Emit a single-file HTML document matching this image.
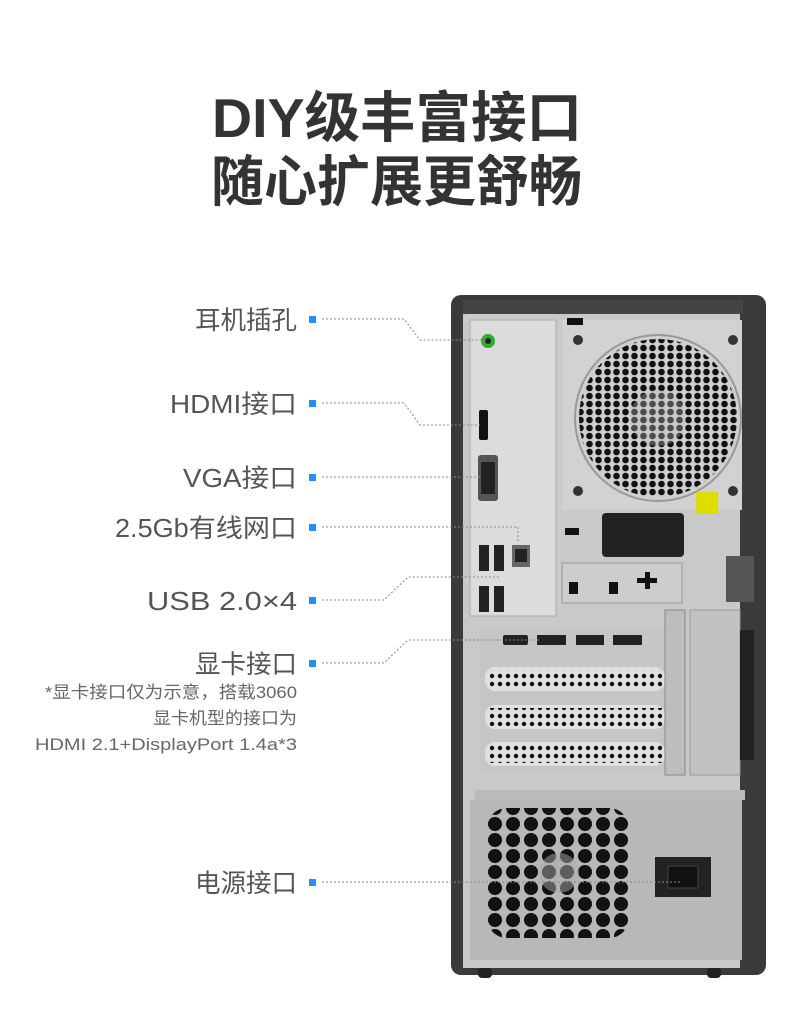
<!DOCTYPE html>
<html><head><meta charset="utf-8"><style>
html,body{margin:0;padding:0;background:#fff;width:790px;height:1015px;overflow:hidden}
svg{display:block}
.t{font-family:"Liberation Sans","Noto Sans CJK SC",sans-serif;font-weight:bold;fill:#333;font-size:55px}
.l{font-family:"Liberation Sans","Noto Sans CJK SC",sans-serif;fill:#555;font-size:25.5px}
.n{font-family:"Liberation Sans","Noto Sans CJK SC",sans-serif;fill:#666;font-size:17px}
.d{stroke:#888;stroke-width:1;stroke-dasharray:2 2;fill:none}
</style></head><body>
<svg width="790" height="1015" viewBox="0 0 790 1015">
<defs>
<pattern id="h1" width="9" height="8" patternUnits="userSpaceOnUse"><circle cx="4.5" cy="4" r="3.3" fill="#111"/></pattern>
<pattern id="h2" width="18" height="16" patternUnits="userSpaceOnUse"><circle cx="9" cy="8" r="7" fill="#111"/></pattern>
<pattern id="h3" width="8" height="8" patternUnits="userSpaceOnUse"><circle cx="4" cy="4" r="2.2" fill="#111"/></pattern>
</defs>
<text class="t" x="212" y="137" textLength="370" lengthAdjust="spacingAndGlyphs">DIY级丰富接口</text>
<text class="t" x="211" y="201" textLength="371" lengthAdjust="spacingAndGlyphs">随心扩展更舒畅</text>

<g class="l">
<text x="195" y="329" textLength="102" lengthAdjust="spacingAndGlyphs">耳机插孔</text>
<text x="170" y="413" textLength="127" lengthAdjust="spacingAndGlyphs">HDMI接口</text>
<text x="183" y="487" textLength="114" lengthAdjust="spacingAndGlyphs">VGA接口</text>
<text x="115" y="537" textLength="182" lengthAdjust="spacingAndGlyphs">2.5Gb有线网口</text>
<text x="147" y="610" textLength="150" lengthAdjust="spacingAndGlyphs">USB 2.0×4</text>
<text x="195" y="673" textLength="102" lengthAdjust="spacingAndGlyphs">显卡接口</text>
<text x="195" y="892" textLength="102" lengthAdjust="spacingAndGlyphs">电源接口</text>
</g>
<g class="n">
<text x="45" y="698" textLength="252" lengthAdjust="spacingAndGlyphs">*显卡接口仅为示意，搭载3060</text>
<text x="153" y="724" textLength="144" lengthAdjust="spacingAndGlyphs">显卡机型的接口为</text>
<text x="35" y="750" textLength="262" lengthAdjust="spacingAndGlyphs">HDMI 2.1+DisplayPort 1.4a*3</text>
</g>
<g fill="#1e90ff">
<rect x="309" y="316" width="7" height="7"/><rect x="309" y="400" width="7" height="7"/>
<rect x="309" y="474" width="7" height="7"/><rect x="309" y="524" width="7" height="7"/>
<rect x="309" y="597" width="7" height="7"/><rect x="309" y="660" width="7" height="7"/>
<rect x="309" y="879" width="7" height="7"/>
</g>

<rect x="451" y="295" width="315" height="680" rx="10" fill="#3a3a3a"/>
<rect x="463" y="310" width="289" height="658" fill="#c9c9c9"/>
<rect x="740" y="310" width="14" height="658" fill="#3a3a3a"/>
<rect x="463" y="300" width="280" height="14" fill="#444"/>
<rect x="470" y="320" width="86" height="296" fill="#dcdcdc" stroke="#aaa"/>
<circle cx="488" cy="341" r="7" fill="#3a3"/><circle cx="488" cy="341" r="3" fill="#222"/>
<rect x="479" y="410" width="9" height="30" rx="2" fill="#111"/>
<rect x="478" y="455" width="20" height="46" rx="3" fill="#555"/>
<rect x="481" y="462" width="14" height="32" fill="#222"/>
<rect x="479" y="545" width="10" height="26" fill="#222"/><rect x="494" y="545" width="10" height="26" fill="#222"/>
<rect x="479" y="586" width="10" height="26" fill="#222"/><rect x="494" y="586" width="10" height="26" fill="#222"/>
<rect x="512" y="545" width="18" height="22" fill="#666"/><rect x="515" y="549" width="12" height="13" fill="#222"/>
<rect x="562" y="320" width="180" height="190" fill="#d2d2d2"/>
<circle cx="658" cy="418" r="83" fill="#cfcfcf" stroke="#999" stroke-width="2"/>
<circle cx="658" cy="418" r="79" fill="url(#h1)"/>
<circle cx="658" cy="418" r="28" fill="#bbb" opacity="0.35"/>
<circle cx="578" cy="340" r="5" fill="#333"/><circle cx="733" cy="340" r="5" fill="#333"/>
<circle cx="578" cy="491" r="5" fill="#333"/><circle cx="733" cy="491" r="5" fill="#333"/>
<rect x="696" y="492" width="22" height="22" fill="#dd0"/>
<rect x="567" y="318" width="16" height="7" fill="#111"/>
<rect x="602" y="513" width="82" height="44" rx="4" fill="#222"/>
<rect x="565" y="528" width="14" height="7" fill="#111"/>
<rect x="562" y="563" width="120" height="40" fill="#cdcdcd" stroke="#999"/>
<rect x="569" y="582" width="9" height="12" fill="#111"/><rect x="609" y="582" width="9" height="12" fill="#111"/>
<rect x="637" y="578" width="20" height="5" fill="#111"/><rect x="645" y="572" width="5" height="17" fill="#111"/>
<rect x="726" y="556" width="28" height="46" fill="#555"/>
<rect x="480" y="628" width="185" height="145" fill="#c6c6c6"/>
<rect x="503" y="635" width="25" height="10" rx="2" fill="#222"/>
<rect x="537" y="635" width="29" height="10" fill="#222"/>
<rect x="576" y="635" width="28" height="10" fill="#222"/>
<rect x="613" y="635" width="29" height="10" fill="#222"/>
<rect x="485" y="667" width="180" height="24" rx="10" fill="#e0e0e0"/>
<rect x="490" y="670" width="172" height="18" fill="url(#h3)"/>
<rect x="485" y="705" width="180" height="24" rx="10" fill="#e0e0e0"/>
<rect x="490" y="708" width="172" height="18" fill="url(#h3)"/>
<rect x="485" y="742" width="180" height="24" rx="10" fill="#e0e0e0"/>
<rect x="490" y="745" width="172" height="18" fill="url(#h3)"/>
<rect x="665" y="610" width="20" height="165" fill="#bdbdbd" stroke="#888"/>
<rect x="690" y="610" width="50" height="165" fill="#c2c2c2" stroke="#999"/>
<rect x="740" y="630" width="14" height="130" fill="#222"/>
<rect x="475" y="790" width="270" height="10" fill="#bbb"/>
<rect x="470" y="800" width="272" height="160" fill="#b8b8b8"/>
<rect x="487" y="808" width="142" height="130" rx="20" fill="url(#h2)"/>
<circle cx="559" cy="873" r="20" fill="#aaa" opacity="0.5"/>
<rect x="655" y="857" width="56" height="40" fill="#222"/>
<rect x="668" y="866" width="30" height="22" fill="#111" stroke="#444"/>
<rect x="478" y="968" width="14" height="10" rx="4" fill="#222"/>
<rect x="707" y="968" width="14" height="10" rx="4" fill="#222"/>

<path class="d" d="M322 319H404L420 340H486"/>
<path class="d" d="M322 403H404L420 425H480"/>
<path class="d" d="M322 477H482"/>
<path class="d" d="M322 527H518V542"/>
<path class="d" d="M322 600H384L408 577H500"/>
<path class="d" d="M322 663H384L408 640H540"/>
<path class="d" d="M322 882H680"/>
</svg>
</body></html>
